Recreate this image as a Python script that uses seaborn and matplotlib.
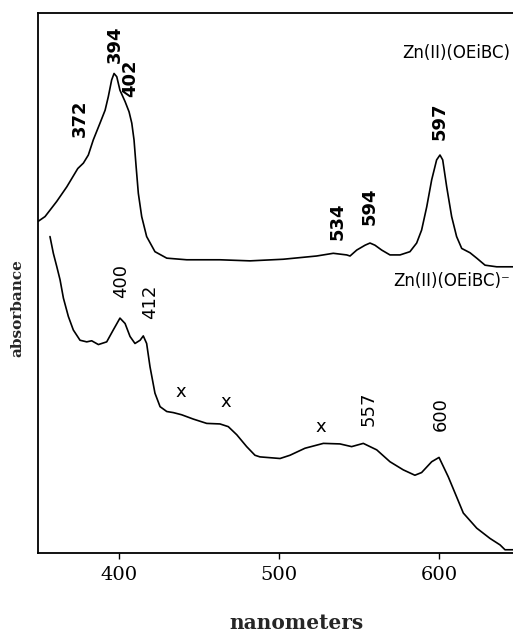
import matplotlib
matplotlib.use("Agg")
import matplotlib.pyplot as plt
import seaborn as sns
import pandas as pd

# Upper spectrum: Zn(II)(OEiBC)
upper_nm = [349.1, 353.5, 360.8, 367.1, 374.0, 377.5, 380.6, 383.7, 387.9, 391.1,
            393.1, 395.2, 396.7, 398.4, 400.4, 403.6, 406.1, 407.8, 409.2, 410.5,
            411.9, 414.0, 417.1, 422.3, 429.7, 442.2, 463.0, 481.8, 502.6, 523.5,
            533.9, 542.3, 544.4, 548.6, 553.8, 556.9, 560.0, 564.2, 569.4, 575.7,
            581.9, 586.1, 589.2, 592.4, 595.5, 598.6, 600.7, 602.4, 604.9, 608.0,
            611.1, 614.3, 619.5, 623.7, 628.9, 636.2, 646.4]
upper_abs = [0.614, 0.623, 0.651, 0.678, 0.712, 0.722, 0.737, 0.765, 0.796, 0.820,
             0.845, 0.876, 0.888, 0.882, 0.857, 0.836, 0.817, 0.796, 0.765, 0.716,
             0.666, 0.623, 0.586, 0.558, 0.546, 0.543, 0.543, 0.541, 0.544, 0.550,
             0.555, 0.552, 0.550, 0.561, 0.570, 0.574, 0.570, 0.561, 0.552, 0.552,
             0.558, 0.574, 0.598, 0.641, 0.691, 0.728, 0.737, 0.728, 0.678, 0.623,
             0.586, 0.564, 0.556, 0.546, 0.533, 0.530, 0.530]

# Lower spectrum: Zn(II)(OEiBC)-
lower_nm = [356.6, 358.7, 360.8, 362.9, 365.0, 368.1, 371.2, 375.4, 379.6, 382.7,
            386.9, 392.1, 396.2, 400.4, 403.6, 406.7, 409.8, 413.0, 415.0, 417.1,
            419.2, 422.3, 425.5, 429.7, 433.8, 439.0, 446.3, 454.7, 463.0, 468.2,
            473.5, 479.7, 484.9, 488.0, 500.6, 506.8, 516.2, 527.7, 538.1, 545.4,
            552.7, 561.1, 569.4, 577.7, 585.0, 589.2, 595.5, 600.1, 605.9, 611.1,
            615.3, 623.7, 632.0, 638.3, 641.4, 646.4]
lower_abs = [0.586, 0.555, 0.531, 0.506, 0.472, 0.438, 0.413, 0.394, 0.391, 0.393,
             0.386, 0.391, 0.413, 0.435, 0.425, 0.401, 0.388, 0.394, 0.402, 0.388,
             0.345, 0.296, 0.271, 0.262, 0.260, 0.256, 0.248, 0.240, 0.239, 0.234,
             0.219, 0.197, 0.181, 0.178, 0.175, 0.181, 0.194, 0.203, 0.202, 0.197,
             0.203, 0.191, 0.169, 0.154, 0.144, 0.149, 0.169, 0.177, 0.141, 0.104,
             0.074, 0.046, 0.027, 0.015, 0.006, 0.006]

# Peak annotations (text, nm, absorbance position)
upper_labels = ["372", "394", "402", "534", "594", "597"]
upper_label_nm = [375.4, 397.3, 407.1, 536.9, 556.9, 600.5]
upper_label_y = [0.806, 0.943, 0.879, 0.615, 0.643, 0.800]

lower_labels = ["400", "412", "x", "x", "x", "557", "600"]
lower_label_nm = [400.9, 419.5, 438.6, 466.6, 526.2, 556.3, 601.3]
lower_label_y = [0.504, 0.465, 0.299, 0.280, 0.234, 0.267, 0.257]
lower_label_rot = [90, 90, 0, 0, 0, 90, 90]

series_names = ["Zn(II)(OEiBC)", "Zn(II)(OEiBC)\u207b"]
series_label_nm = [644.5, 644.5]
series_label_y = [0.926, 0.504]

xticks = [400, 500, 600]

sns.set_style("ticks")
plt.rcParams["font.family"] = ["DejaVu Sans"]

fig = plt.figure(figsize=(5.13, 6.32), dpi=100)
ax = fig.add_axes([38 / 513, 1 - 553 / 632, 1 - 38 / 513, (553 - 13) / 632])

df_u = pd.DataFrame({"nm": upper_nm, "abs": upper_abs})
df_l = pd.DataFrame({"nm": lower_nm, "abs": lower_abs})
sns.lineplot(data=df_u, x="nm", y="abs", ax=ax, color="black", lw=1.2,
             estimator=None, sort=False)
sns.lineplot(data=df_l, x="nm", y="abs", ax=ax, color="black", lw=1.2,
             estimator=None, sort=False)

ax.set_xlim(349.1, 646.4)
ax.set_ylim(0, 1)
ax.set_xticks(xticks)
ax.set_xticklabels([str(t) for t in xticks], family="DejaVu Serif", fontsize=14)
ax.set_yticks([])
ax.tick_params(axis="x", direction="out", length=4, width=1, pad=5, colors="black")
ax.set_xlabel("")
ax.set_ylabel("")
for s in ["left", "top", "bottom"]:
    ax.spines[s].set_linewidth(1.3)
    ax.spines[s].set_color("black")
ax.spines["right"].set_visible(False)

for t, x, y in zip(upper_labels, upper_label_nm, upper_label_y):
    ax.text(x, y, t, rotation=90, ha="center", va="center", fontsize=13,
            fontweight="bold", color="black")
for t, x, y, r in zip(lower_labels, lower_label_nm, lower_label_y, lower_label_rot):
    ax.text(x, y, t, rotation=r, ha="center", va="center", fontsize=13,
            color="black")
for t, x, y in zip(series_names, series_label_nm, series_label_y):
    ax.text(x, y, t, ha="right", va="center", fontsize=12, color="black")

fig.text(17 / 513, 1 - 308 / 632, "absorbance", rotation=90, ha="center",
         va="center", family="DejaVu Serif", fontweight="bold", fontsize=11)
fig.text(296 / 513, 1 - 623 / 632, "nanometers", ha="center", va="center",
         family="DejaVu Serif", fontweight="bold", fontsize=14.5)

fig.savefig("out.png", dpi=100)
